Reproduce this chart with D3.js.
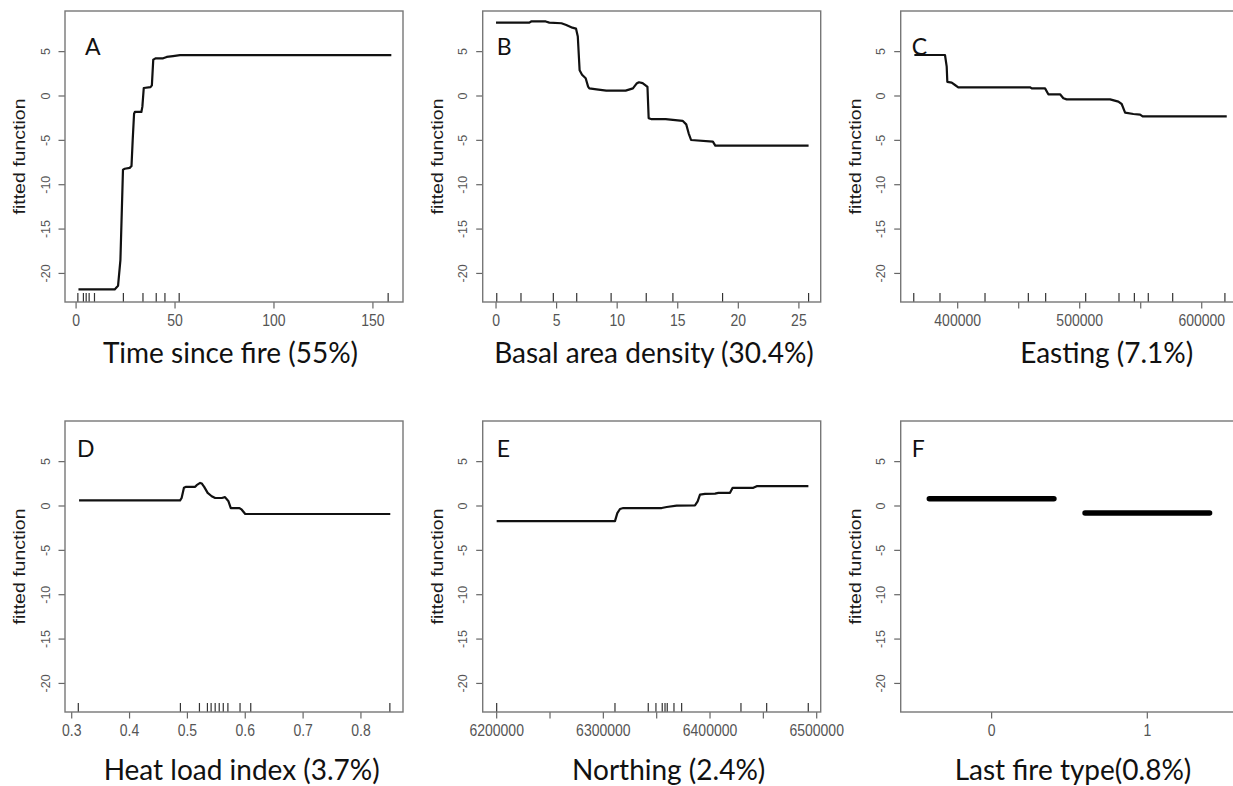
<!DOCTYPE html>
<html><head><meta charset="utf-8">
<script src="https://cdn.jsdelivr.net/npm/d3@7"></script>
<style>body{margin:0;background:#fff} svg{display:block}</style>
</head><body><svg id="c" width="1233" height="786"></svg>
<script>
// ---------------- DATA ----------------
const panelLetters = ["A","B","C","D","E","F"];
const xTitles = ["Time since fire (55%)","Basal area density (30.4%)","Easting (7.1%)",
                 "Heat load index (3.7%)","Northing (2.4%)","Last fire type(0.8%)"];
const yTitle = "fitted function";
const yTicks = [-20,-15,-10,-5,0,5];
const yDomain = [-23.22, 9.58];

// A: Time since fire
const aDomain = [-5.6, 165.2];
const aTicks = [0,50,100,150];
const aLabels = ["0","50","100","150"];
const aX = [1.2,19.5,21.2,22.4,23.7,24.6,27.1,28,28.6,29.3,29.7,33,33.5,34.2,37.6,38.3,39,40.3,44,45.8,49,52.5,159.3];
const aY = [-21.8,-21.8,-21.4,-18.5,-8.3,-8.2,-8.1,-7.9,-5,-2,-1.8,-1.8,-1.2,0.9,1.0,1.2,4.1,4.25,4.25,4.4,4.5,4.6,4.6];
const aRug = [0.9,3.7,5.1,6.6,9.3,23.9,33.8,40.5,44.9,52.1,157.7];

// B: Basal area density
const bDomain = [-1.1, 26.8];
const bTicks = [0,5,10,15,20,25];
const bLabels = ["0","5","10","15","20","25"];
const bX = [0,2.75,2.9,4.1,4.4,5.4,5.8,6.3,6.6,6.75,6.9,7.1,7.4,7.6,7.7,8.3,9.1,10.7,11.3,11.6,11.8,12.1,12.4,12.5,12.6,12.8,14,15.4,15.7,15.9,16.1,17.9,18.1,25.8];
const bY = [8.27,8.27,8.4,8.4,8.27,8.2,8.0,7.7,7.6,6.7,2.9,2.4,2.0,1.05,0.86,0.75,0.6,0.6,0.86,1.4,1.55,1.45,1.13,1.05,-2.5,-2.6,-2.6,-2.8,-3.2,-4.2,-4.96,-5.15,-5.6,-5.6];
const bRug = [0.06,2.06,4.73,6.66,9.5,12.4,14.6,18.7,25.8];

// C: Easting
const cDomain = [353300, 630300];
const cTicks = [400000,450000,500000,550000,600000];
const cLabels = ["400000","","500000","","600000"];
const cX = [364500,389600,391000,391500,395100,397800,400500,459300,460700,471600,474300,483900,486600,489300,524900,531700,534400,537200,544000,549500,551600,620500];
const cY = [4.62,4.62,3.3,1.6,1.5,1.24,0.98,0.98,0.86,0.86,0.19,0.19,-0.26,-0.38,-0.38,-0.64,-0.9,-1.88,-2.03,-2.1,-2.3,-2.3];
const cRug = [364000,385500,422400,457900,472100,504900,532200,544800,556200,576200,619000];

// D: Heat load index
const dDomain = [0.2884, 0.8727];
const dTicks = [0.3,0.4,0.5,0.6,0.7,0.8];
const dLabels = ["0.3","0.4","0.5","0.6","0.7","0.8"];
const dX = [0.3127,0.4874,0.490,0.494,0.4978,0.5134,0.516,0.522,0.525,0.529,0.535,0.542,0.548,0.5595,0.565,0.571,0.575,0.59,0.594,0.6,0.8507];
const dY = [0.64,0.64,0.9,2.05,2.16,2.16,2.35,2.6,2.53,2.16,1.48,1.1,0.9,0.9,1.0,0.53,-0.23,-0.23,-0.42,-0.9,-0.9];
const dRug = [0.3114,0.4879,0.5208,0.5346,0.541,0.548,0.555,0.562,0.570,0.591,0.6095,0.850];

// E: Northing
const eDomain = [6186900, 6503750];
const eTicks = [6200000,6250000,6300000,6350000,6400000,6450000,6500000];
const eLabels = ["6200000","","6300000","","6400000","","6500000"];
const eX = [6200000,6310900,6313100,6315600,6318700,6354700,6359400,6368700,6385900,6388400,6390600,6395300,6404700,6407800,6418750,6421200,6440600,6443750,6492200];
const eY = [-1.7,-1.7,-0.8,-0.34,-0.23,-0.23,-0.11,0.04,0.08,0.53,1.29,1.36,1.4,1.48,1.48,2.05,2.05,2.23,2.23];
const eRug = [6200000,6310900,6342100,6349300,6355200,6357800,6359900,6366200,6373400,6429000,6453100,6492100];

// F: Last fire type (factor)
const fDomain = [-0.584, 1.587];
const fTicks = [0,1];
const fLabels = ["0","1"];
const fLevels = [0,1];
const fValues = [0.83,-0.8];

// ---------------- LAYOUT ----------------
const colLeft = [65, 482.7, 900.7];
const rowTop = [11, 421];
const PW = 338, PH = 291;
const letterPos = [[20,44],[14,43.5],[11,44],[12,35.7],[14,35.7],[11,35.7]];
const titleDx = [-3.5, 2.3, 37, 7.7, 17, 3.3];
const titleBaseline = [362.5, 780];

const svg = d3.select("#c");
const panels = [
  {dom:aDomain,ticks:aTicks,labels:aLabels,x:aX,y:aY,rug:aRug},
  {dom:bDomain,ticks:bTicks,labels:bLabels,x:bX,y:bY,rug:bRug},
  {dom:cDomain,ticks:cTicks,labels:cLabels,x:cX,y:cY,rug:cRug},
  {dom:dDomain,ticks:dTicks,labels:dLabels,x:dX,y:dY,rug:dRug},
  {dom:eDomain,ticks:eTicks,labels:eLabels,x:eX,y:eY,rug:eRug},
  {dom:fDomain,ticks:fTicks,labels:fLabels,factor:true}
];

panels.forEach((p,i)=>{
  const row = Math.floor(i/3);
  const L = colLeft[i%3], T = rowTop[row];
  const g = svg.append("g");
  const x = d3.scaleLinear().domain(p.dom).range([L, L+PW]);
  const y = d3.scaleLinear().domain(yDomain).range([T+PH, T]);

  // y axis ticks
  yTicks.forEach(v=>{
    g.append("line").attr("x1",L-6.5).attr("x2",L).attr("y1",y(v)).attr("y2",y(v))
      .attr("stroke","#666").attr("stroke-width",1.2);
    g.append("text").attr("transform",`translate(${L-20},${y(v)}) rotate(-90)`)
      .attr("text-anchor","middle").attr("dy","0.36em")
      .attr("font-family","Liberation Sans, Arial, sans-serif").attr("font-size",12.5)
      .attr("fill","#555").text(v);
  });
  // x axis ticks
  p.ticks.forEach((v,k)=>{
    g.append("line").attr("x1",x(v)).attr("x2",x(v)).attr("y1",T+PH).attr("y2",T+PH+6.5)
      .attr("stroke","#666").attr("stroke-width",1.2);
    if (p.labels[k]) {
      g.append("text").attr("transform",`translate(${x(v)},${T+PH+23.5}) scale(1,1.2)`)
        .attr("text-anchor","middle")
        .attr("font-family","Liberation Sans, Arial, sans-serif").attr("font-size",14)
        .attr("fill","#555").text(p.labels[k]);
    }
  });
  // rug
  if (p.rug) {
    p.rug.forEach(v=>{
      g.append("line").attr("x1",x(v)).attr("x2",x(v)).attr("y1",T+PH).attr("y2",T+PH-9)
        .attr("stroke","#333").attr("stroke-width",1.2);
    });
  }
  // curve
  if (p.factor) {
    fLevels.forEach((lv,k)=>{
      g.append("line").attr("x1",x(lv-0.4)).attr("x2",x(lv+0.4))
        .attr("y1",y(fValues[k])).attr("y2",y(fValues[k]))
        .attr("stroke","#000").attr("stroke-width",5.5).attr("stroke-linecap","round");
    });
  } else {
    const pts = p.x.map((v,k)=>[v,p.y[k]]);
    g.append("path").attr("d", d3.line().x(d=>x(d[0])).y(d=>y(d[1]))(pts))
      .attr("fill","none").attr("stroke","#111").attr("stroke-width",2.2)
      .attr("stroke-linejoin","round");
  }
  // box
  g.append("rect").attr("x",L).attr("y",T).attr("width",PW).attr("height",PH)
    .attr("fill","none").attr("stroke","#777").attr("stroke-width",1.4);
  // y title
  g.append("text").attr("transform",`translate(${L-45.5},${T+PH/2}) scale(1,1.22) rotate(-90)`)
    .attr("text-anchor","middle").attr("dy","0.36em")
    .attr("font-family","Liberation Sans, Arial, sans-serif").attr("font-size",16)
    .attr("fill","#1a1a1a").text(yTitle);
  // panel letter
  g.append("text").attr("x",L+letterPos[i][0]).attr("y",T+letterPos[i][1])
    .attr("font-family","Lato, sans-serif").attr("font-size",23).attr("fill","#111")
    .text(panelLetters[i]);
  // x title
  g.append("text").attr("x",L+PW/2+titleDx[i]).attr("y",titleBaseline[row])
    .attr("text-anchor","middle")
    .attr("font-family","Lato, sans-serif").attr("font-size",28).attr("fill","#111")
    .text(xTitles[i]);
});
</script></body></html>
